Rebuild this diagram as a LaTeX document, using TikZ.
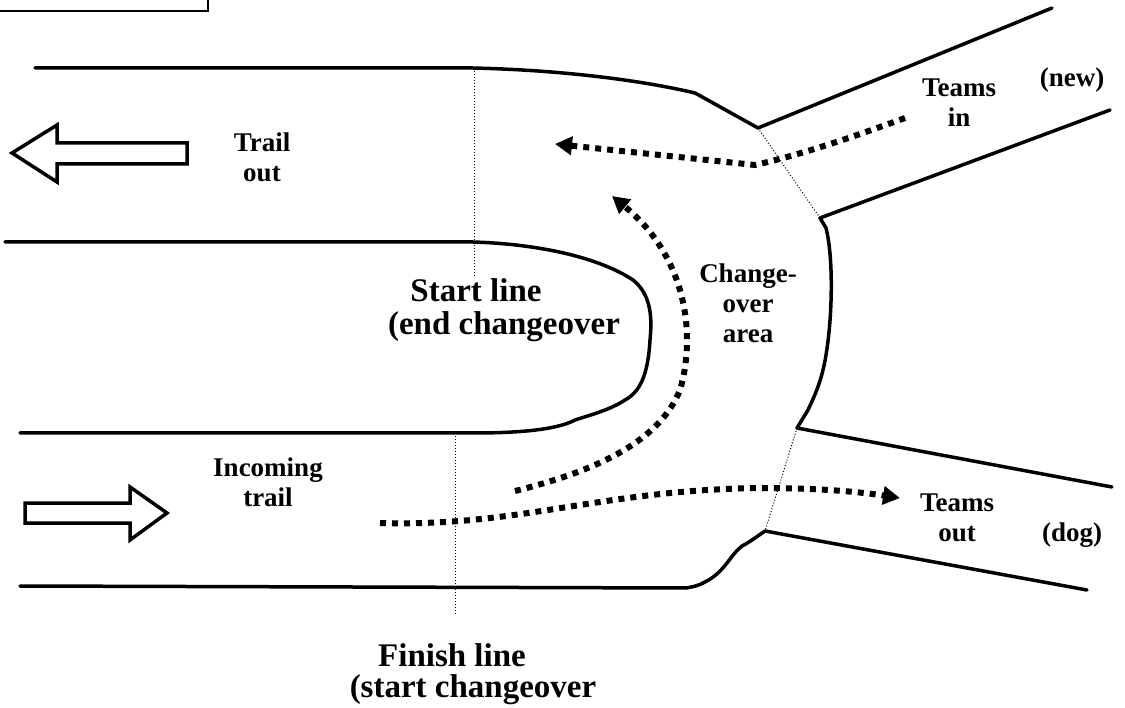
\documentclass[tikz,border=0pt]{standalone}
\usepackage{fontspec}
\setmainfont{Liberation Serif}
\usetikzlibrary{arrows.meta}
\tikzset{
  edge/.style={line width=3.5pt, line cap=round, line join=round},
  thinline/.style={line width=1pt, dash pattern=on 1pt off 2pt},
  flow/.style={line width=6pt, dash pattern=on 6pt off 6pt, -{Triangle[length=17pt,width=18pt]}},
  bigarrow/.style={line width=3.5pt, line join=miter, fill=white},
  lab/.style={font=\bfseries\fontsize{27}{30}\selectfont, align=center, inner sep=0pt},
  biglab/.style={font=\bfseries\fontsize{33}{37}\selectfont, inner sep=0pt},
}
\begin{document}
\begin{tikzpicture}[x=1pt,y=-1pt]
\useasboundingbox (0,0) rectangle (1125,708);
% top-left frame fragment
\draw[line width=2pt] (0,11) -- (208,11) -- (208,0);
% trail out channel
\draw[edge] (35,68) -- (473,68) .. controls (560,70) and (640,80) .. (695,93) -- (758,128) -- (1052,8);
\draw[edge] (1110,110) -- (820,218) -- (826,228) .. controls (834,260) and (832,320) .. (826,355)
  .. controls (822,380) and (815,395) .. (808,410) -- (797,428) -- (1112,487);
\draw[edge] (1087,590) -- (765,531) .. controls (755,538) and (748,543) .. (742,546)
  .. controls (730,555) and (725,572) .. (705,582) .. controls (698,586) and (692,587) .. (686,588) -- (20,586);
% U shape
\draw[edge] (5,242) -- (473,242) .. controls (540,244) and (600,258) .. (633,280)
  .. controls (652,295) and (652,320) .. (650,340) .. controls (648,375) and (640,392) .. (625,400)
  .. controls (610,410) and (590,415) .. (575,420) .. controls (560,428) and (530,433) .. (473,433) -- (20,433);
% thin dotted lines
\draw[thinline] (474,68) -- (474,276);
\draw[thinline] (455,433) -- (455,615);
\draw[thinline] (758,128) -- (820,218);
\draw[thinline] (797,428) -- (765,531);
% hollow block arrows
\draw[bigarrow] (187,143) -- (57,143) -- (57,125) -- (12,153) -- (57,182) -- (57,164) -- (187,164) -- cycle;
\draw[bigarrow] (25,503) -- (130,503) -- (130,487) -- (167,513) -- (130,540) -- (130,523) -- (25,523) -- cycle;
% flow arrows
\draw[flow] (905,118) .. controls (850,138) and (800,155) .. (755,165) -- (555,144);
\draw[flow] (515,491) .. controls (600,470) and (660,440) .. (680,390)
  .. controls (695,340) and (690,260) .. (612,196);
\draw[flow] (380,523) .. controls (520,527) and (600,490) .. (760,488) .. controls (820,488) and (860,492) .. (900,498);
% labels
\node[lab] (trailout) at (262,157) {Trail\\out};
\node[lab] (teamsin) at (959,103) {Teams\\in};
\node[lab] (new) at (1072,80) {(new)};
\node[lab] (area) at (748,303) {Change-\\over\\area};
\node[biglab] (start1) at (476,290) {Start line};
\node[biglab] (start2) at (504,327) {(end changeover};
\node[lab] (incoming) at (268,482) {Incoming\\trail};
\node[lab] (teamsout) at (957,518) {Teams\\out};
\node[lab] (dog) at (1072,535) {(dog)};
\node[biglab] (finish1) at (452,655) {Finish line};
\node[biglab] (finish2) at (473,690) {(start changeover};
\end{tikzpicture}
\end{document}
